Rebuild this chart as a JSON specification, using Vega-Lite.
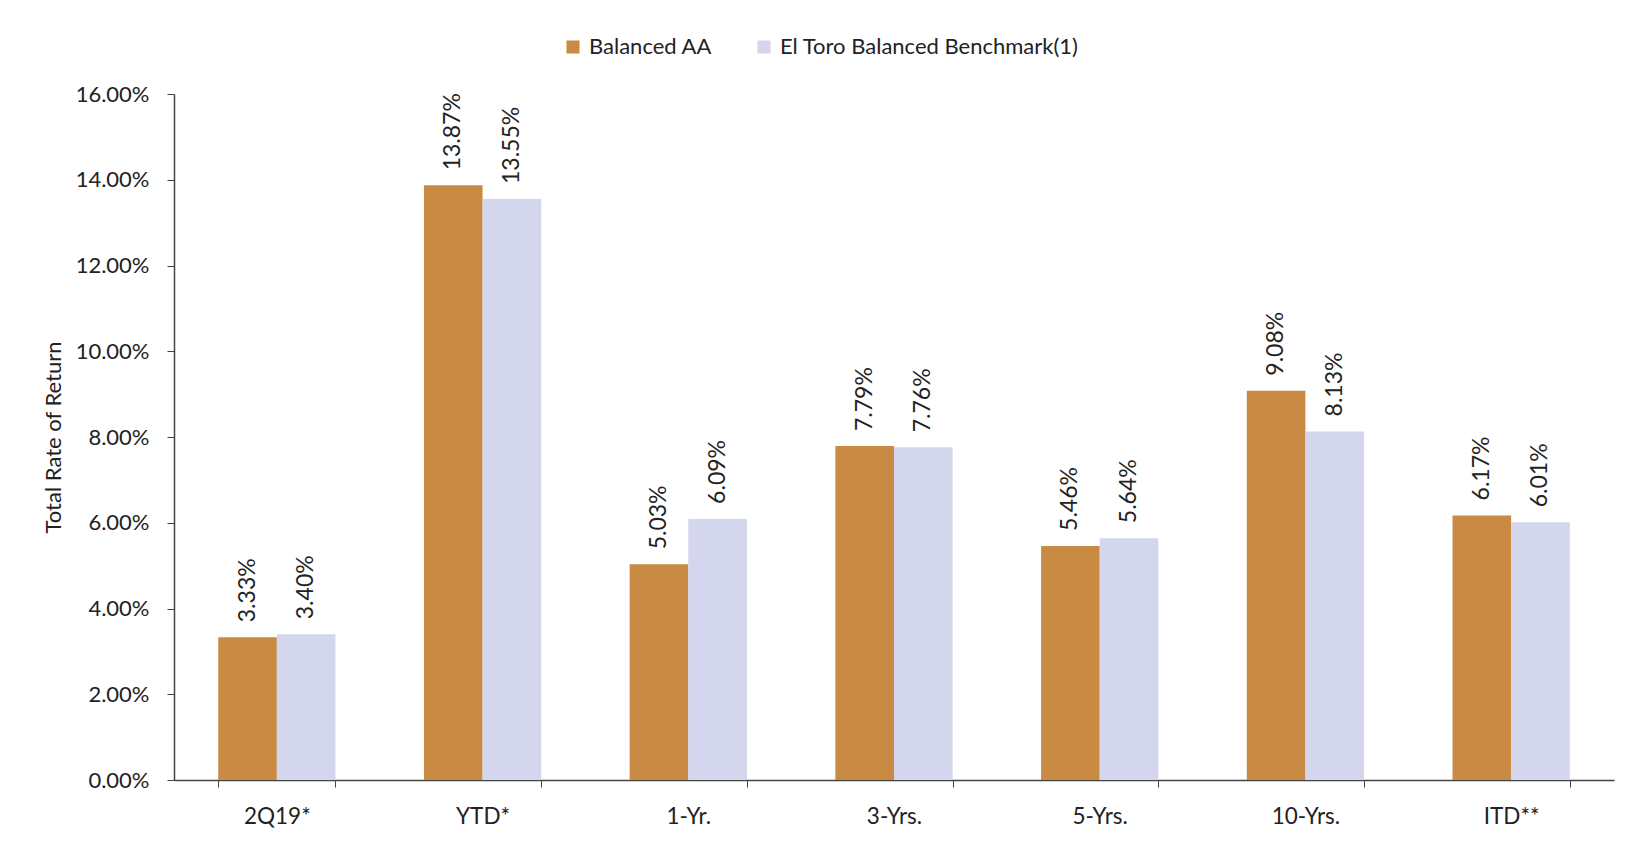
{
  "$schema": "https://vega.github.io/schema/vega-lite/v6.json",
  "width": 1440,
  "height": 686,
  "autosize": {"type": "none"},
  "padding": {"left": 174, "top": 94, "right": 17, "bottom": 63},
  "background": "white",
  "config": {
    "font": "Lato",
    "view": {"stroke": null},
    "axis": {"labelFont": "Lato", "titleFont": "Lato", "labelColor": "#222222", "titleColor": "#222222"}
  },
  "data": {
    "values": [
      {"period": "2Q19*", "series": "Balanced AA", "value": 0.0333},
      {"period": "2Q19*", "series": "El Toro Balanced Benchmark(1)", "value": 0.0340},
      {"period": "YTD*", "series": "Balanced AA", "value": 0.1387},
      {"period": "YTD*", "series": "El Toro Balanced Benchmark(1)", "value": 0.1355},
      {"period": "1-Yr.", "series": "Balanced AA", "value": 0.0503},
      {"period": "1-Yr.", "series": "El Toro Balanced Benchmark(1)", "value": 0.0609},
      {"period": "3-Yrs.", "series": "Balanced AA", "value": 0.0779},
      {"period": "3-Yrs.", "series": "El Toro Balanced Benchmark(1)", "value": 0.0776},
      {"period": "5-Yrs.", "series": "Balanced AA", "value": 0.0546},
      {"period": "5-Yrs.", "series": "El Toro Balanced Benchmark(1)", "value": 0.0564},
      {"period": "10-Yrs.", "series": "Balanced AA", "value": 0.0908},
      {"period": "10-Yrs.", "series": "El Toro Balanced Benchmark(1)", "value": 0.0813},
      {"period": "ITD**", "series": "Balanced AA", "value": 0.0617},
      {"period": "ITD**", "series": "El Toro Balanced Benchmark(1)", "value": 0.0601}
    ]
  },
  "encoding": {
    "x": {
      "field": "period",
      "type": "nominal",
      "sort": ["2Q19*", "YTD*", "1-Yr.", "3-Yrs.", "5-Yrs.", "10-Yrs.", "ITD**"],
      "scale": {"paddingInner": 0.43, "paddingOuter": 0.215},
      "axis": {
        "title": null,
        "labelAngle": 0,
        "labelFontSize": 22.5,
        "labelPadding": 18,
        "tickBand": "extent",
        "tickSize": 7,
        "tickColor": "#444444",
        "domainColor": "#444444",
        "domainWidth": 1.5
      }
    },
    "xOffset": {
      "field": "series",
      "type": "nominal",
      "sort": ["Balanced AA", "El Toro Balanced Benchmark(1)"]
    },
    "y": {
      "field": "value",
      "type": "quantitative",
      "scale": {"domain": [0, 0.16], "nice": false},
      "axis": {
        "title": "Total Rate of Return",
        "titleFontSize": 22,
        "titleFontWeight": "normal",
        "titlePadding": 10,
        "format": ".2%",
        "values": [0, 0.02, 0.04, 0.06, 0.08, 0.1, 0.12, 0.14, 0.16],
        "labelFontSize": 22,
        "labelPadding": 18,
        "tickSize": 7,
        "tickColor": "#444444",
        "domainColor": "#444444",
        "domainWidth": 1.5,
        "grid": false
      }
    }
  },
  "layer": [
    {
      "mark": {"type": "bar"},
      "encoding": {
        "color": {
          "field": "series",
          "type": "nominal",
          "sort": ["Balanced AA", "El Toro Balanced Benchmark(1)"],
          "scale": {"domain": ["Balanced AA", "El Toro Balanced Benchmark(1)"], "range": ["#C98A43", "#D3D6EC"]},
          "legend": {
            "title": null,
            "orient": "none",
            "direction": "horizontal",
            "legendX": 388,
            "legendY": -58,
            "symbolType": "square",
            "symbolSize": 170,
            "symbolStrokeWidth": 0,
            "labelFontSize": 22,
            "labelFont": "Lato",
            "labelColor": "#222222",
            "labelLimit": 0,
            "labelOffset": 5,
            "columnPadding": 40
          }
        }
      }
    },
    {
      "mark": {"type": "text", "angle": -90, "align": "left", "baseline": "middle", "dx": 15, "fontSize": 23, "color": "#222222"},
      "encoding": {
        "text": {"field": "value", "type": "quantitative", "format": ".2%"}
      }
    }
  ]
}
